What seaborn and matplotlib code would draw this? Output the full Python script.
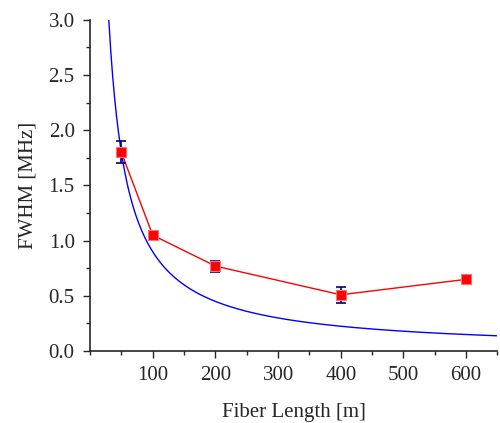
import numpy as np
import pandas as pd
import seaborn as sns
import matplotlib.pyplot as plt
from matplotlib.ticker import MultipleLocator

# measured linewidth vs fiber length
length = [50, 100, 200, 400, 600]
fwhm = [1.80, 1.05, 0.77, 0.51, 0.65]
fwhm_err = [0.10, 0.04, 0.05, 0.07, 0.03]

# theory curve FWHM = k / L (k)
k_fit = 90.0
L_start, L_end = 30, 650

sns.set_style('ticks')
plt.rcParams['font.family'] = ['Liberation Serif', 'DejaVu Serif']

fig = plt.figure(figsize=(5, 4.23), dpi=100)
ax = fig.add_axes([0.18, 0.17, 0.815, 0.783])

L = np.linspace(L_start, L_end, 400)
theory = pd.DataFrame({'L': L, 'FWHM': k_fit / L})
sns.lineplot(data=theory, x='L', y='FWHM', color='#0000ff', lw=1.0, ax=ax)

data = pd.DataFrame({'L': length, 'FWHM': fwhm, 'err': fwhm_err})
sns.lineplot(data=data, x='L', y='FWHM', color='#ff0000', lw=1.0, ax=ax)
ax.errorbar(data['L'], data['FWHM'], yerr=data['err'], fmt='none',
            ecolor='#000080', elinewidth=1.2, capsize=3.5, capthick=1.2, zorder=3)
ax.plot(data['L'], data['FWHM'], 's', ms=6.8, mfc='#ff0000', mec='#ff7070',
        mew=0.8, zorder=4)

ax.set_xlim(0, 650)
ax.set_ylim(0, 3.0)
ax.set_xticks([100, 200, 300, 400, 500, 600])
ax.xaxis.set_minor_locator(MultipleLocator(50))
ax.yaxis.set_major_locator(MultipleLocator(0.5))
ax.yaxis.set_minor_locator(MultipleLocator(0.25))
ax.yaxis.set_major_formatter(plt.FormatStrFormatter('%.1f'))
ax.tick_params(which='major', direction='out', length=5, width=1, labelsize=15, pad=6)
ax.tick_params(which='minor', direction='out', length=3, width=1)

sns.despine(ax=ax)
for s in ['left', 'bottom']:
    ax.spines[s].set_linewidth(1.2)

ax.set_xlabel('Fiber Length [m]', fontsize=15, labelpad=13)
ax.set_ylabel('FWHM [MHz]', fontsize=15, labelpad=8)

plt.savefig('out.png', dpi=100)
